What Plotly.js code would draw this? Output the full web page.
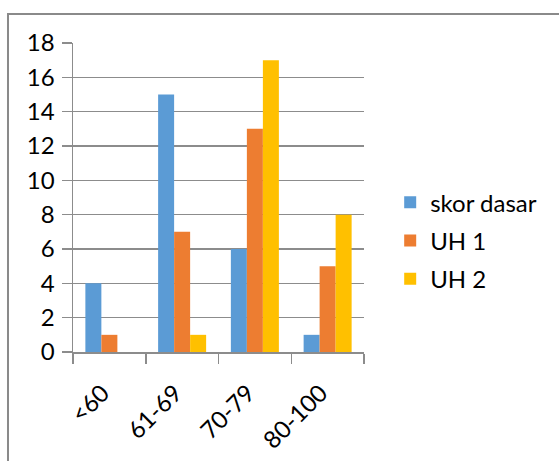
<!DOCTYPE html>
<html>
<head>
<meta charset="utf-8">
<script src="https://cdn.plot.ly/plotly-3.0.1.min.js"></script>
<style>html,body{margin:0;padding:0;background:#fff;}#chart{width:559px;height:461px;}</style>
</head>
<body>
<div id="chart"></div>
<script>
const categories = ["<60", "61-69", "70-79", "80-100"];
const seriesNames = ["skor dasar", "UH 1", "UH 2"];
const skorDasar = [4, 15, 6, 1];
const uh1 = [1, 7, 13, 5];
const uh2 = [0, 1, 17, 8];
const yTicks = [0, 2, 4, 6, 8, 10, 12, 14, 16, 18];

const colors = ["#5B9BD5", "#ED7D31", "#FFC000"];
const values = [skorDasar, uh1, uh2];

const traces = values.map((v, i) => ({
  type: "bar",
  name: seriesNames[i],
  x: categories,
  y: v,
  marker: {color: colors[i], line: {width: 0}},
  legendgroup: "g" + i,
  hoverinfo: "x+y+name"
}));

const FONT = "Lato, 'Open Sans', sans-serif";

const layout = {
  width: 559,
  height: 461,
  margin: {l: 73, r: 195, t: 43, b: 109},
  paper_bgcolor: "#ffffff",
  plot_bgcolor: "#ffffff",
  font: {family: FONT, size: 23, color: "#000000"},
  barmode: "group",
  bargap: 0.34,
  bargroupgap: 0,
  showlegend: true,
  legend: {
    x: 1.09, xanchor: "left",
    y: 0.36, yanchor: "middle",
    font: {family: FONT, size: 24, color: "#000000"},
    traceorder: "grouped",
    tracegroupgap: 4,
    bgcolor: "rgba(0,0,0,0)"
  },
  xaxis: {
    type: "category",
    tickson: "boundaries",
    ticks: "outside",
    ticklen: 10,
    tickwidth: 1.5,
    tickcolor: "#8c8c8c",
    showline: true,
    linecolor: "#8c8c8c",
    linewidth: 1.5,
    showgrid: false,
    tickangle: -45,
    ticklabelstandoff: 16,
    ticklabelshift: -7,
    tickfont: {family: FONT, size: 24, color: "#000000"}
  },
  yaxis: {
    range: [0, 18],
    tickvals: yTicks,
    ticktext: yTicks.map(String),
    ticks: "outside",
    ticklen: 10,
    tickwidth: 1.5,
    tickcolor: "#8c8c8c",
    showline: true,
    linecolor: "#8c8c8c",
    linewidth: 1.5,
    showgrid: true,
    gridcolor: "#8c8c8c",
    gridwidth: 1.5,
    zeroline: false,
    ticklabelstandoff: 2,
    tickfont: {family: FONT, size: 24, color: "#000000"}
  },
  shapes: [{
    type: "rect", xref: "paper", yref: "paper",
    x0: -0.2234, x1: 1.68, y0: -0.37, y1: 1.094,
    line: {color: "#8a8a8a", width: 2},
    fillcolor: "rgba(0,0,0,0)",
    layer: "below"
  }]
};

Plotly.newPlot("chart", traces, layout, {displayModeBar: false, staticPlot: true});
</script>
</body>
</html>
